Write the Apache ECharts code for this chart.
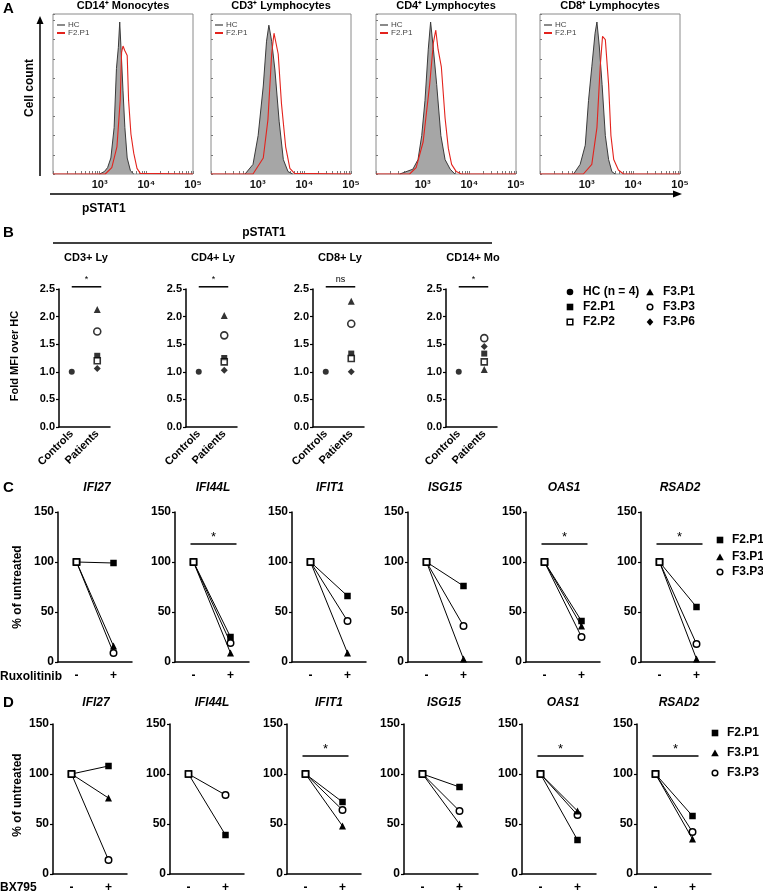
<!DOCTYPE html>
<html><head><meta charset="utf-8">
<script src="https://cdn.jsdelivr.net/npm/echarts@6/dist/echarts.min.js"></script>
<style>html,body{margin:0;padding:0;background:#fff}#c{width:763px;height:894px}</style>
</head><body><div id="c"></div>
<script>
// ---------------- DATA ----------------
// Panel A: histograms, x = log10(pSTAT1 intensity), y = % of max cell count
const histTitles = ['CD14⁺ Monocytes', 'CD3⁺ Lymphocytes', 'CD4⁺ Lymphocytes', 'CD8⁺ Lymphocytes'];
const histTickLabels = {3: '10³', 4: '10⁴', 5: '10⁵'};
const histLegend = ['HC', 'F2.P1'];
const hcCD14 = [[3.00,0],[3.10,1.5],[3.17,4],[3.24,10],[3.31,29],[3.36,66],[3.40,79],[3.43,95],[3.46,77],[3.50,52],[3.54,29],[3.59,10],[3.66,2],[3.73,0]];
const redCD14 = [[2,0],[3.12,0],[3.26,4],[3.37,17],[3.44,46],[3.47,76],[3.50,80],[3.54,77],[3.59,74],[3.62,46],[3.67,25],[3.73,13],[3.80,3.5],[3.87,0.4],[5,0]];
const hcCD3 = [[2.73,0],[2.90,6],[3.01,24],[3.12,55],[3.19,83],[3.24,93],[3.30,83],[3.37,65],[3.46,33],[3.55,9],[3.65,1.5],[3.75,0]];
const redCD3 = [[2,0],[2.90,0],[3.12,10],[3.22,34],[3.30,75],[3.35,88],[3.39,89],[3.44,75],[3.51,44],[3.60,17],[3.69,3.5],[3.79,0.4],[5,0]];
const hcCD4 = [[2.51,0],[2.79,3],[2.90,9],[2.98,24],[3.05,46],[3.12,78],[3.17,95],[3.23,78],[3.30,56],[3.39,24],[3.48,9],[3.59,3],[3.69,0]];
const redCD4 = [[2,0],[2.72,0],[2.86,4],[3.01,20],[3.15,56],[3.23,82],[3.28,90],[3.33,78],[3.40,67],[3.48,35],[3.55,16],[3.62,6],[3.72,1.5],[3.83,0],[5,0]];
const hcCD8 = [[2.72,0],[2.86,6],[2.97,18],[3.04,46],[3.11,67],[3.18,88],[3.22,95],[3.27,80],[3.33,56],[3.40,24],[3.47,9],[3.54,1.5],[3.61,0]];
const redCD8 = [[2,0],[2.93,0],[3.11,6],[3.22,29],[3.29,67],[3.34,86],[3.40,84],[3.47,56],[3.52,24],[3.58,9],[3.68,2.5],[3.79,0],[5,0]];

// Panel B: fold MFI over HC
const bGroups = ['CD3+ Ly', 'CD4+ Ly', 'CD8+ Ly', 'CD14+ Mo'];
const bCategories = ['Controls', 'Patients'];
const bHC   = [1.00, 1.00, 1.00, 1.00];
const bF2P1 = [1.29, 1.25, 1.33, 1.33];
const bF2P2 = [1.20, 1.18, 1.24, 1.18];
const bF3P1 = [2.13, 2.02, 2.28, 1.04];
const bF3P3 = [1.73, 1.66, 1.87, 1.61];
const bF3P6 = [1.06, 1.03, 1.00, 1.46];
const bSig  = ['*', '*', 'ns', '*'];

// Panels C / D: % of untreated
const genes = ['IFI27', 'IFI44L', 'IFIT1', 'ISG15', 'OAS1', 'RSAD2'];
const treatCats = ['-', '+'];
const untreated = 100;
const cF2P1 = [99, 25, 66, 76, 41, 55];
const cF3P1 = [16, 9, 9, 3, 36, 3];
const cF3P3 = [9, 19, 41, 36, 25, 18];
const cSig  = ['', '*', '', '', '*', '*'];
const dF2P1 = [108, 39, 72, 87, 34, 58];
const dF3P1 = [76, null, 48, 50, 63, 35];
const dF3P3 = [14, 79, 64, 63, 59, 42];
const dSig  = ['', '', '*', '', '*', '*'];
const patientNames = ['F2.P1', 'F3.P1', 'F3.P3'];

// ---------------- BUILD ----------------
const FONT = 'Arial, "Liberation Sans", Helvetica, sans-serif';
const chart = echarts.init(document.getElementById('c'));
const grid = [], xAxis = [], yAxis = [], series = [];
const graphic = [];

function T(x, y, text, font, o) {
  o = o || {};
  return {type: 'text', x: x, y: y, rotation: o.rot || 0, z: 100, silent: true,
    style: {text: text, font: font, fill: o.fill || '#000',
      textAlign: o.align || 'left', textVerticalAlign: o.valign || 'middle',
      align: o.align || 'left', verticalAlign: o.valign || 'middle'}};
}
function L(x1, y1, x2, y2, w, c) {
  return {type: 'line', z: 100, silent: true, shape: {x1, y1, x2, y2}, style: {stroke: c || '#000', lineWidth: w || 1.5}};
}

// ---- Panel A
const histHC = [hcCD14, hcCD3, hcCD4, hcCD8];
const histRed = [redCD14, redCD3, redCD4, redCD8];
const aLefts = [53, 211, 376, 540];
const histMinor = [];
for (let d = 2; d < 5; d++) for (let m = 1; m < 10; m++) histMinor.push(d + Math.log10(m));
histMinor.push(5);
histTitles.forEach((t, i) => {
  const gi = grid.length;
  grid.push({left: aLefts[i], top: 14, width: 140, height: 160, show: true, borderColor: '#8a8a8a', borderWidth: 1, backgroundColor: 'transparent'});
  xAxis.push({gridIndex: gi, type: 'value', min: 2, max: 5, interval: 1,
    axisLine: {show: false}, splitLine: {show: false},
    axisTick: {show: true, inside: true, length: 3, lineStyle: {color: '#777'}, customValues: histMinor},
    axisLabel: {margin: 5, fontFamily: FONT, fontWeight: 'bold', fontSize: 11, color: '#111', customValues: [3, 4, 5],
      formatter: v => histTickLabels[Math.round(v)] || ''}});
  yAxis.push({gridIndex: gi, type: 'value', min: 0, max: 100, interval: 12,
    axisLine: {show: false}, splitLine: {show: false}, axisLabel: {show: false},
    axisTick: {show: true, inside: true, length: 2, lineStyle: {color: '#777'}}});
  series.push({type: 'line', name: 'HC', xAxisIndex: gi, yAxisIndex: gi, data: histHC[i], symbol: 'none', silent: true,
    lineStyle: {color: '#3a3a3a', width: 1}, areaStyle: {color: '#a6a6a6', opacity: 1}, z: 2});
  series.push({type: 'line', name: 'F2.P1', xAxisIndex: gi, yAxisIndex: gi, data: histRed[i], symbol: 'none', silent: true,
    lineStyle: {color: '#e3231d', width: 1.1}, z: 3});
  graphic.push(T(aLefts[i] + 70, 6, t, 'bold 11px ' + FONT, {align: 'center'}));
  graphic.push(L(aLefts[i] + 4, 25, aLefts[i] + 12, 25, 2, '#8a8a8a'));
  graphic.push(T(aLefts[i] + 15, 25, histLegend[0], '8px ' + FONT, {fill: '#444'}));
  graphic.push(L(aLefts[i] + 4, 33, aLefts[i] + 12, 33, 2, '#e3231d'));
  graphic.push(T(aLefts[i] + 15, 33, histLegend[1], '8px ' + FONT, {fill: '#444'}));
});
graphic.push(T(3, 9, 'A', 'bold 15px ' + FONT));
graphic.push(L(40, 176, 40, 22, 1.5));
graphic.push({type: 'polygon', z: 100, silent: true, shape: {points: [[36.5, 24], [43.5, 24], [40, 16]]}, style: {fill: '#000'}});
graphic.push(T(30, 88, 'Cell count', 'bold 12px ' + FONT, {align: 'center', rot: Math.PI / 2}));
graphic.push(L(50, 194, 675, 194, 1.5));
graphic.push({type: 'polygon', z: 100, silent: true, shape: {points: [[673, 190.5], [673, 197.5], [682, 194]]}, style: {fill: '#000'}});
graphic.push(T(82, 209, 'pSTAT1', 'bold 12px ' + FONT));

// ---- Panel B
graphic.push(T(3, 233, 'B', 'bold 15px ' + FONT));
graphic.push(T(264, 233, 'pSTAT1', 'bold 12px ' + FONT, {align: 'center'}));
graphic.push(L(53, 243, 492, 243, 1.3));
graphic.push(T(15, 356, 'Fold MFI over HC', 'bold 11px ' + FONT, {align: 'center', rot: Math.PI / 2}));
const bLefts = [59, 186, 313, 446];
const bGridIdx = [];
const bDefs = [
  {name: 'F3.P6', data: bF3P6, symbol: 'diamond', size: 7, fill: '#000'},
  {name: 'F3.P1', data: bF3P1, symbol: 'triangle', size: 7, fill: '#000'},
  {name: 'F2.P1', data: bF2P1, symbol: 'rect', size: 6, fill: '#000'},
  {name: 'F2.P2', data: bF2P2, symbol: 'rect', size: 6, fill: '#fff'},
  {name: 'F3.P3', data: bF3P3, symbol: 'circle', size: 7, fill: '#fff'}
];
bGroups.forEach((g, i) => {
  const gi = grid.length; bGridIdx.push(gi);
  grid.push({left: bLefts[i], top: 289, width: 51, height: 138});
  xAxis.push({gridIndex: gi, type: 'category', data: bCategories, boundaryGap: true,
    axisLine: {lineStyle: {color: '#000', width: 1.5}},
    axisTick: {alignWithLabel: true, length: 3, lineStyle: {color: '#000', width: 1.2}},
    axisLabel: {interval: 0, rotate: 45, margin: 5, fontFamily: FONT, fontWeight: 'bold', fontSize: 11, color: '#000'}});
  yAxis.push({gridIndex: gi, type: 'value', min: 0, max: 2.5, interval: 0.5, splitLine: {show: false},
    axisLine: {show: true, lineStyle: {color: '#000', width: 1.5}},
    axisTick: {show: true, length: 3, lineStyle: {color: '#000', width: 1.2}},
    axisLabel: {margin: 4, fontFamily: FONT, fontWeight: 'bold', fontSize: 11, color: '#000', formatter: v => v.toFixed(1)}});
  series.push({type: 'scatter', name: 'HC (n = 4)', xAxisIndex: gi, yAxisIndex: gi, data: [[0, bHC[i]]],
    symbol: 'circle', symbolSize: 6, itemStyle: {color: '#000'}, z: 5});
  bDefs.forEach(d => {
    series.push({type: 'scatter', name: d.name, xAxisIndex: gi, yAxisIndex: gi, data: [[1, d.data[i]]],
      symbol: d.symbol, symbolSize: d.size,
      itemStyle: {color: d.fill, borderColor: '#000', borderWidth: d.fill === '#fff' ? 1.6 : 0}, z: 5});
  });
  graphic.push(T(bLefts[i] + 27, 258, g, 'bold 11px ' + FONT, {align: 'center'}));
});
// B legend
const bl = [
  {t: 'HC (n = 4)', x: 570, y: 292, s: 'circleF'}, {t: 'F2.P1', x: 570, y: 307, s: 'rectF'}, {t: 'F2.P2', x: 570, y: 322, s: 'rectO'},
  {t: 'F3.P1', x: 650, y: 292, s: 'tri'}, {t: 'F3.P3', x: 650, y: 307, s: 'circleO'}, {t: 'F3.P6', x: 650, y: 322, s: 'dia'}
];
function legendSym(s, x, y) {
  if (s === 'circleF') return {type: 'circle', z: 100, shape: {cx: x, cy: y, r: 3.3}, style: {fill: '#000'}};
  if (s === 'circleO') return {type: 'circle', z: 100, shape: {cx: x, cy: y, r: 2.8}, style: {fill: '#fff', stroke: '#000', lineWidth: 1.5}};
  if (s === 'rectF') return {type: 'rect', z: 100, shape: {x: x - 3.3, y: y - 3.3, width: 6.6, height: 6.6}, style: {fill: '#000'}};
  if (s === 'rectO') return {type: 'rect', z: 100, shape: {x: x - 2.8, y: y - 2.8, width: 5.6, height: 5.6}, style: {fill: '#fff', stroke: '#000', lineWidth: 1.5}};
  if (s === 'tri') return {type: 'polygon', z: 100, shape: {points: [[x - 3.8, y + 3.3], [x + 3.8, y + 3.3], [x, y - 3.6]]}, style: {fill: '#000'}};
  if (s === 'dia') return {type: 'polygon', z: 100, shape: {points: [[x, y - 3.8], [x + 3.3, y], [x, y + 3.8], [x - 3.3, y]]}, style: {fill: '#000'}};
}
bl.forEach(b => { graphic.push(legendSym(b.s, b.x, b.y)); graphic.push(T(b.x + 13, b.y, b.t, 'bold 12px ' + FONT)); });

// ---- Panels C and D
const titleCenters = [97, 213, 330, 445, 564, 680];
const cLefts = [58, 175, 292, 408, 526, 641];
const dLefts = [53, 170, 287, 404, 522, 637];
const cGridIdx = [], dGridIdx = [];
const symFor = [
  {symbol: 'rect', size: 6.5, fill: '#000'},
  {symbol: 'triangle', size: 7, fill: '#000'},
  {symbol: 'circle', size: 6.5, fill: '#fff'}
];
function buildRow(lefts, top, height, vals, idxStore) {
  genes.forEach((g, i) => {
    const gi = grid.length; idxStore.push(gi);
    grid.push({left: lefts[i], top: top, width: 74, height: height});
    xAxis.push({gridIndex: gi, type: 'category', data: treatCats, boundaryGap: true,
      axisLine: {lineStyle: {color: '#000', width: 1.5}},
      axisTick: {alignWithLabel: true, length: 3, lineStyle: {color: '#000', width: 1.2}},
      axisLabel: {interval: 0, margin: 8, fontFamily: FONT, fontWeight: 'bold', fontSize: 12, color: '#000'}});
    yAxis.push({gridIndex: gi, type: 'value', min: 0, max: 150, interval: 50, splitLine: {show: false},
      axisLine: {show: true, lineStyle: {color: '#000', width: 1.5}},
      axisTick: {show: true, length: 3, lineStyle: {color: '#000', width: 1.2}},
      axisLabel: {margin: 4, fontFamily: FONT, fontWeight: 'bold', fontSize: 12, color: '#000'}});
    vals.forEach((arr, p) => {
      const v = arr[i];
      if (v === null) return;
      const s = symFor[p];
      series.push({type: 'line', name: patientNames[p], xAxisIndex: gi, yAxisIndex: gi, z: 5 + (2 - p),
        lineStyle: {color: '#000', width: 1}, symbol: s.symbol, symbolSize: s.size,
        itemStyle: {color: s.fill, borderColor: '#000', borderWidth: s.fill === '#fff' ? 1.5 : 0},
        data: [
          {value: [0, untreated], symbol: 'rect', symbolSize: 6, itemStyle: {color: '#fff', borderColor: '#000', borderWidth: 1.5}},
          {value: [1, v]}
        ]});
    });
  });
}
buildRow(cLefts, 512, 150, [cF2P1, cF3P1, cF3P3], cGridIdx);
buildRow(dLefts, 724, 152, [dF2P1, dF3P1, dF3P3], dGridIdx);
graphic.push(T(3, 488, 'C', 'bold 15px ' + FONT));
graphic.push(T(3, 703, 'D', 'bold 15px ' + FONT));
genes.forEach((g, i) => {
  graphic.push(T(titleCenters[i], 488, g, 'italic bold 12px ' + FONT, {align: 'center'}));
  graphic.push(T(titleCenters[i] - 1, 703, g, 'italic bold 12px ' + FONT, {align: 'center'}));
});
graphic.push(T(18, 587, '% of untreated', 'bold 12px ' + FONT, {align: 'center', rot: Math.PI / 2}));
graphic.push(T(18, 795, '% of untreated', 'bold 12px ' + FONT, {align: 'center', rot: Math.PI / 2}));
graphic.push(T(0, 677, 'Ruxolitinib', 'bold 12px ' + FONT));
graphic.push(T(0, 888, 'BX795', 'bold 12px ' + FONT));
const legSyms = ['rectF', 'tri', 'circleO'];
[[720, [540, 557, 572]], [715, [733, 753, 773]]].forEach(([x, ys]) => {
  patientNames.forEach((n, k) => {
    graphic.push(legendSym(legSyms[k], x, ys[k]));
    graphic.push(T(x + 12, ys[k], n, 'bold 12px ' + FONT));
  });
});

chart.setOption({animation: false, backgroundColor: '#fff', grid, xAxis, yAxis, series});

// ---- significance annotations, positioned through the axes
const ann = [];
bGridIdx.forEach((gi, i) => {
  const a = chart.convertToPixel({gridIndex: gi}, [0, 2.54]);
  const b = chart.convertToPixel({gridIndex: gi}, [1, 2.54]);
  ann.push(L(a[0], a[1], b[0] + 4, b[1], 1.5));
  ann.push(T((a[0] + b[0] + 4) / 2, a[1] - 7, bSig[i], '9px ' + FONT, {align: 'center'}));
});
function rowSig(idx, sig) {
  idx.forEach((gi, i) => {
    if (!sig[i]) return;
    const a = chart.convertToPixel({gridIndex: gi}, [0, 118]);
    const b = chart.convertToPixel({gridIndex: gi}, [1, 118]);
    ann.push(L(a[0] - 3, a[1], b[0] + 6, b[1], 1.5));
    ann.push(T((a[0] + b[0] + 3) / 2, a[1] - 7, sig[i], '13px ' + FONT, {align: 'center'}));
  });
}
rowSig(cGridIdx, cSig);
rowSig(dGridIdx, dSig);
chart.setOption({graphic: graphic.concat(ann)});
</script>
</body></html>
